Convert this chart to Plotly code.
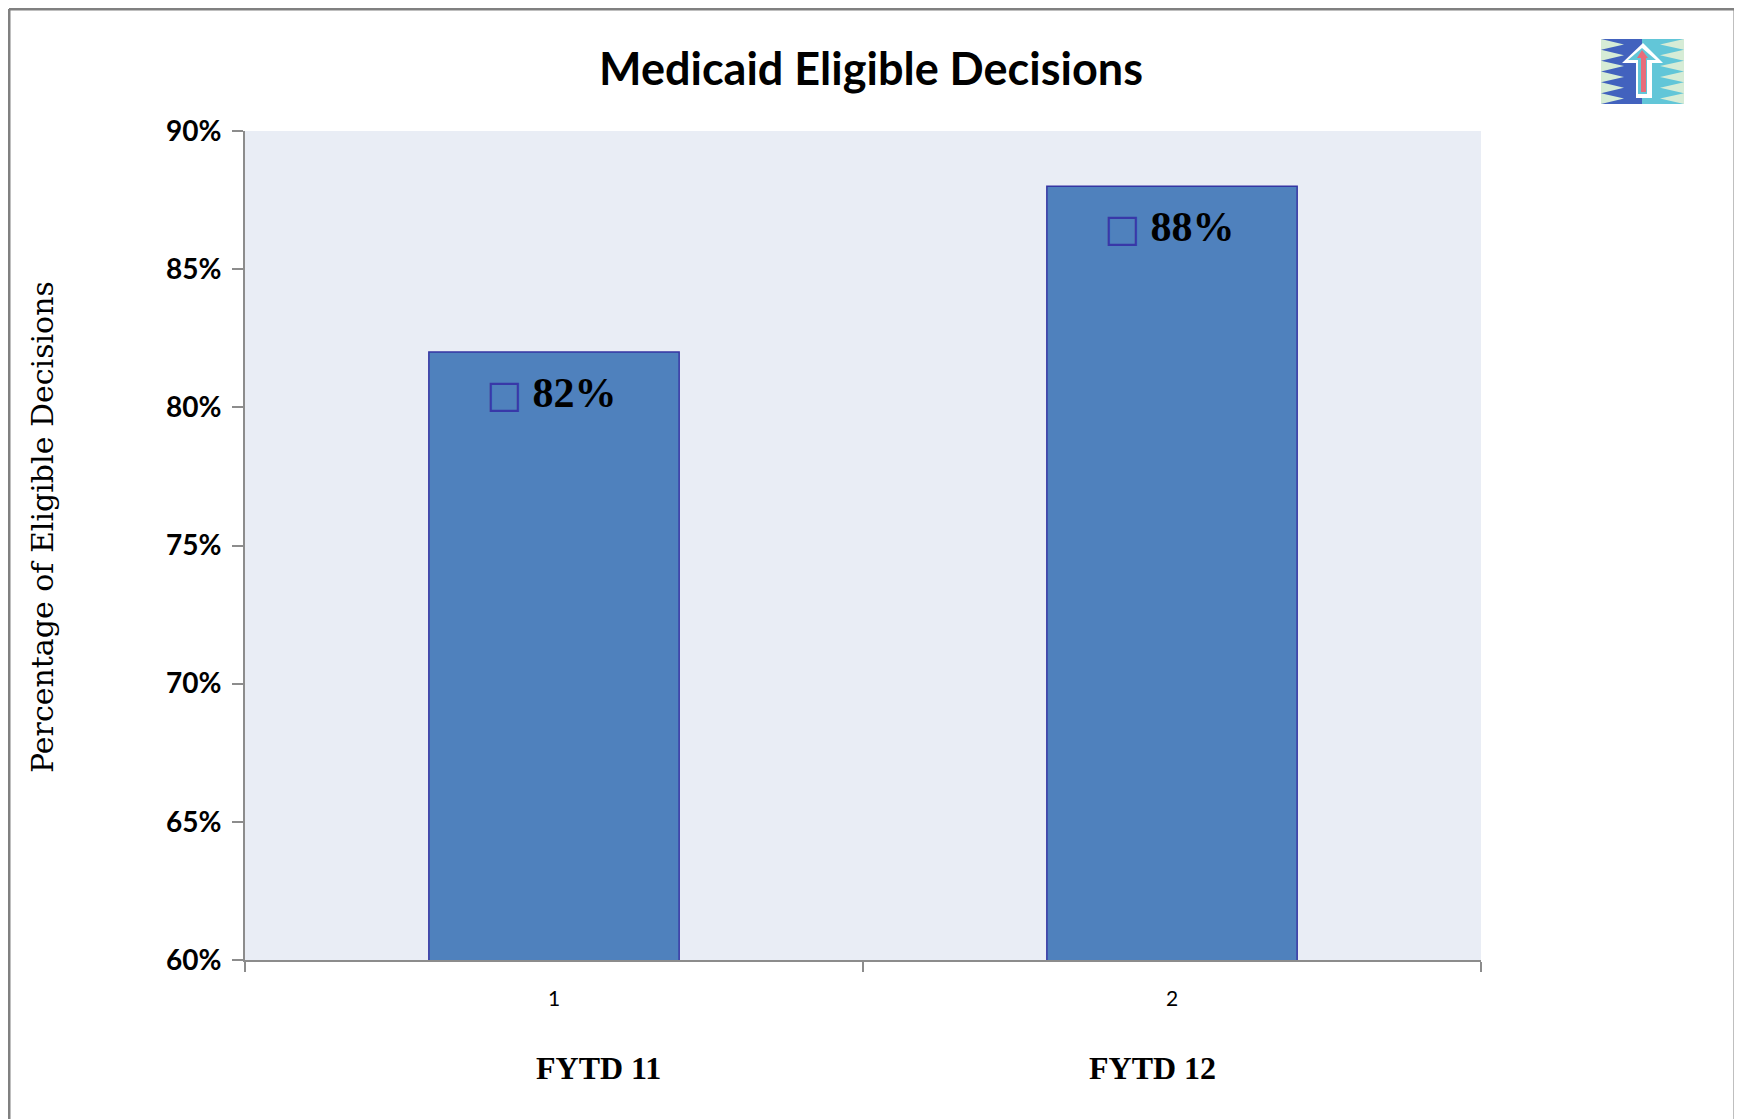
import plotly.graph_objects as go

categories = ["1", "2"]
values = [0.82, 0.88]
period_labels = ["FYTD 11", "FYTD 12"]
period_shift = [44, -20]
y_ticks = [0.60, 0.65, 0.70, 0.75, 0.80, 0.85, 0.90]

W, H = 1742, 1119
OFF = 8  # page body margin offset
L, R, T, B = 245 - OFF, 1481 - OFF, 131 - OFF, 960 - OFF


def px(x):
    """screen x -> paper"""
    return (x - OFF - L) / (R - L)


def py(y):
    """screen y -> paper"""
    return (B - (y - OFF)) / (B - T)


fig = go.Figure()
fig.add_trace(go.Bar(
    x=categories, y=values,
    marker=dict(color="#4F81BD", line=dict(color="#3535A3", width=1.5)),
    hoverinfo="skip", showlegend=False,
))

annotations = []
for i, v in enumerate(values):
    annotations.append(dict(
        x=i, y=v, xref="x", yref="y",
        text="<span style='color:#3838A8;font-family:DejaVu Sans;font-weight:normal;font-size:38px'>□</span> "
             + f"{round(v * 100)}%",
        showarrow=False, yanchor="middle", yshift=-41, xshift=-3,
        font=dict(family="Liberation Serif", size=42, color="black", weight="bold"),
    ))
for i, (lab, s) in enumerate(zip(period_labels, period_shift)):
    annotations.append(dict(
        x=i, y=py(1068), xref="x", yref="paper", text=lab, showarrow=False,
        xshift=s, yanchor="middle",
        font=dict(family="Liberation Serif", size=32, color="black", weight="bold"),
    ))
annotations.append(dict(
    x=px(42), y=py(775), xref="paper", yref="paper",
    text="Percentage of Eligible Decisions", textangle=-90, showarrow=False,
    xanchor="center", yanchor="bottom",
    font=dict(family="DejaVu Serif", size=30, color="black"),
))

shapes = []
# page border (left, top, right)
bl, bt, br, bb = px(OFF + 1), py(OFF + 1), px(1735), py(1200)
for x0, y0, x1, y1 in [(bl, bt, bl, bb), (bl, bt, br, bt), (br, bt, br, bb)]:
    shapes.append(dict(type="line", xref="paper", yref="paper",
                       x0=x0, y0=y0, x1=x1, y1=y1,
                       line=dict(color="#808080", width=3)))


def path(points):
    return "M " + " L ".join(f"{px(a):.5f},{py(b):.5f}" for a, b in points) + " Z"


def poly(points, color):
    shapes.append(dict(type="path", xref="paper", yref="paper", path=path(points),
                       fillcolor=color, line=dict(width=0)))


# logo (screen coords)
lx0, lx1, ly0, ly1 = 1601, 1684, 39, 104
mid = 1642
poly([(lx0, ly0), (lx1, ly0), (lx1, ly1), (lx0, ly1)], "#D6ECD6")
teeth = 6
h = (ly1 - ly0) / teeth
ptsL = [(mid, ly0), (mid, ly1)]
for i in range(teeth, 0, -1):
    ptsL.append((lx0, ly0 + i * h))
    ptsL.append((1624, ly0 + (i - 0.5) * h))
ptsL.append((lx0, ly0))
poly(ptsL, "#4262BE")
ptsR = [(mid, ly0), (mid, ly1)]
for i in range(teeth, 0, -1):
    ptsR.append((lx1, ly0 + i * h))
    ptsR.append((1660, ly0 + (i - 0.5) * h))
ptsR.append((lx1, ly0))
poly(ptsR, "#62C6D8")
# arrow
poly([(1643, 43), (1663, 63), (1652, 63), (1652, 98), (1636, 98), (1636, 63), (1622, 63)], "#FFFFFF")
poly([(1642, 48), (1656, 60), (1647, 60), (1647, 94), (1638, 94), (1638, 60), (1628, 60)], "#62C6D8")
poly([(1642, 50), (1648, 58), (1646, 58), (1646, 92), (1641, 92), (1641, 58), (1637, 58)], "#E86C7A")

fig.update_layout(
    width=W, height=H,
    margin=dict(l=L, r=W - R, t=T, b=H - B, pad=0),
    paper_bgcolor="white", plot_bgcolor="#E9EDF5",
    bargap=0.595,
    title=dict(text="Medicaid Eligible Decisions", x=(871 - OFF) / W, xanchor="center",
               y=1 - (69 - OFF) / H, yanchor="middle",
               font=dict(family="Lato", size=45, color="black", weight="bold")),
    xaxis=dict(
        type="category", range=[-0.5, 1.5],
        showline=True, linecolor="#8C8C8C", linewidth=2,
        ticks="outside", tickson="boundaries", ticklen=10, tickwidth=2, tickcolor="#8C8C8C",
        ticklabelstandoff=19,
        tickfont=dict(family="Lato", size=21, color="black"),
        showgrid=False, zeroline=False,
    ),
    yaxis=dict(
        range=[0.6, 0.9], tickvals=y_ticks, tickformat=".0%",
        showline=True, linecolor="#8C8C8C", linewidth=2,
        ticks="outside", ticklen=11, tickwidth=2, tickcolor="#8C8C8C",
        ticklabelstandoff=5,
        tickfont=dict(family="Lato", size=28, color="black", weight="bold"),
        showgrid=False, zeroline=False,
    ),
    annotations=annotations,
    shapes=shapes,
)

fig.write_html("out.html")
